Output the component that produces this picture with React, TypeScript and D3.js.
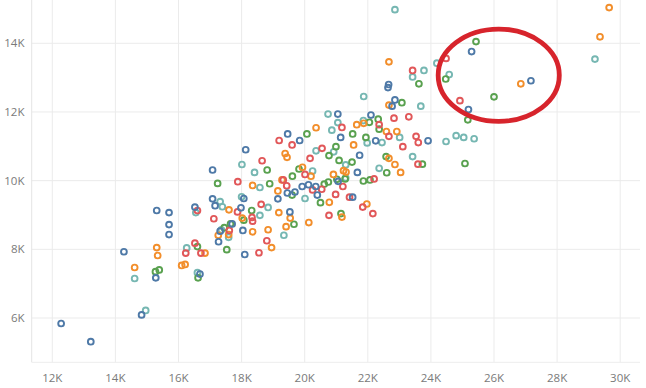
import React from "react";
import * as d3 from "d3";

// values in thousands: [x, y]
const blueSeries: [number, number][] = [
  [12.28, 5.84], [13.22, 5.31], [14.27, 7.93], [14.83, 6.09], [15.31, 9.13], [15.28, 7.17],
  [15.7, 9.07], [15.7, 8.72], [15.7, 8.43], [16.52, 9.23], [16.68, 7.28], [17.08, 9.47],
  [17.16, 9.27], [17.08, 10.31], [17.27, 8.22], [17.32, 8.53], [18.07, 9.48], [17.98, 9.21],
  [18.13, 10.9], [18.04, 8.55], [18.1, 7.85], [17.7, 8.74], [19.15, 9.47], [19.45, 9.64],
  [19.69, 9.67], [19.46, 11.36], [19.84, 11.17], [19.53, 9.09], [19.92, 9.83], [20.12, 9.88],
  [20.35, 9.83], [20.4, 9.58], [21.05, 11.94], [21.14, 11.26], [21.06, 9.98], [21.52, 9.52],
  [21.67, 10.24], [21.74, 10.74], [22.1, 11.91], [22.25, 11.16], [22.66, 12.8], [22.64, 12.71],
  [22.86, 12.35], [22.77, 12.17], [23.91, 11.16], [25.19, 12.07], [25.29, 13.76], [27.17, 12.91],
];

const orangeSeries: [number, number][] = [
  [14.61, 7.47], [15.31, 8.05], [15.34, 7.82], [16.1, 7.53], [16.21, 7.56], [16.84, 7.89],
  [17.26, 8.41], [17.6, 9.15], [17.59, 8.43], [18.02, 8.91], [18.35, 9.86], [18.35, 8.51],
  [18.84, 8.57], [18.95, 8.05], [19.15, 9.7], [19.18, 9.07], [19.28, 10.02], [19.38, 10.79],
  [19.44, 10.68], [19.41, 8.66], [19.54, 8.91], [19.93, 10.39], [20.2, 10.13], [20.13, 8.78],
  [20.36, 11.54], [20.78, 9.37], [20.91, 10.18], [21.23, 10.29], [21.31, 10.25], [21.18, 8.94],
  [21.55, 11.04], [21.65, 11.63], [21.87, 11.67], [21.97, 9.32], [22.59, 11.43], [22.92, 11.43],
  [22.67, 12.2], [22.67, 13.46], [22.67, 10.65], [22.86, 10.47], [23.04, 10.24], [26.85, 12.82],
  [29.36, 14.19], [29.65, 15.04],
];

const redSeries: [number, number][] = [
  [16.23, 7.89], [16.52, 8.18], [16.6, 9.13], [16.71, 7.89], [17.12, 8.89], [17.61, 8.55],
  [17.87, 9.09], [17.88, 9.97], [18.33, 8.93], [18.35, 8.82], [18.65, 10.58], [18.62, 9.31],
  [18.55, 7.9], [18.8, 8.25], [19.19, 11.17], [19.6, 11.04], [19.32, 10.02], [19.43, 9.85],
  [20.01, 10.18], [20.17, 10.65], [20.25, 9.73], [20.54, 9.75], [20.55, 10.94], [20.77, 8.99],
  [20.98, 9.6], [21.18, 11.55], [21.21, 9.83], [21.42, 9.52], [21.84, 9.23], [22.16, 9.04],
  [22.2, 10.05], [22.36, 11.63], [22.83, 11.82], [23.3, 11.86], [22.67, 11.29], [23.11, 10.99],
  [23.42, 13.21], [23.53, 11.29], [23.6, 11.11], [23.59, 10.48], [24.48, 13.56], [24.92, 12.33],
];

const tealSeries: [number, number][] = [
  [14.61, 7.15], [14.96, 6.22], [16.26, 8.04], [16.55, 9.07], [16.6, 7.32], [17.32, 9.39],
  [17.39, 9.24], [17.36, 8.57], [17.59, 8.35], [18.01, 10.47], [18.0, 9.53], [18.41, 10.24],
  [18.58, 9.8], [18.58, 8.99], [18.84, 9.22], [19.34, 8.41], [20.01, 9.48], [20.25, 10.28],
  [20.36, 10.87], [20.74, 11.94], [20.86, 11.47], [20.92, 10.84], [21.05, 11.69], [21.3, 10.46],
  [21.3, 10.08], [21.87, 12.45], [21.86, 11.75], [21.98, 11.1], [22.36, 10.36], [22.45, 11.11],
  [22.86, 14.98], [23.01, 11.26], [23.42, 13.02], [23.42, 10.7], [23.68, 12.17], [23.78, 13.21],
  [24.19, 13.42], [24.48, 11.14], [24.58, 13.09], [24.8, 11.31], [25.04, 11.26], [25.37, 11.22],
  [29.2, 13.54],
];

const greenSeries: [number, number][] = [
  [15.27, 7.35], [15.39, 7.4], [16.6, 8.08], [16.62, 7.17], [17.24, 9.92], [17.45, 8.63],
  [17.53, 7.99], [17.65, 8.74], [18.32, 9.13], [18.07, 8.85], [18.81, 10.31], [18.89, 9.91],
  [19.61, 10.13], [19.6, 9.58], [19.66, 8.73], [19.82, 10.34], [20.07, 11.36], [20.5, 9.36],
  [20.62, 9.9], [20.75, 9.96], [20.77, 10.73], [20.99, 10.99], [21.02, 10.04], [21.09, 10.59],
  [21.15, 9.04], [21.28, 10.05], [21.52, 11.36], [21.5, 10.54], [21.86, 9.99], [22.07, 10.02],
  [21.94, 11.26], [22.05, 11.7], [22.33, 11.79], [22.36, 11.5], [22.58, 10.7], [22.6, 10.23],
  [23.08, 12.27], [23.62, 12.82], [23.73, 10.48], [24.47, 12.96], [25.08, 10.5], [25.17, 11.77],
  [25.43, 14.05], [26.0, 12.44],
];

const xTicks = [12, 14, 16, 18, 20, 22, 24, 26, 28, 30];
const yTicks = [6, 8, 10, 12, 14];

// hand-drawn highlight (data units, thousands)
const highlight = { cx: 26.15, cy: 13.07, rx: 1.92, ry: 1.345 };

const series = [
  { color: "#76b7b2", pts: tealSeries },
  { color: "#59a14f", pts: greenSeries },
  { color: "#f28e2b", pts: orangeSeries },
  { color: "#e15759", pts: redSeries },
  { color: "#4e79a7", pts: blueSeries },
];

const W = 646;
const H = 388;
const plot = { left: 31.7, right: 640, top: 0, bottom: 362.3 };

export default function App() {
  const x = d3.scaleLinear().domain([12, 30]).range([52.3, 620.2]);
  const y = d3.scaleLinear().domain([6, 14]).range([318, 43.3]);
  const kx = x(1) - x(0);
  const ky = y(0) - y(1);

  return (
    <div style={{ position: "fixed", left: 0, top: 0 }}>
      <svg width={W} height={H} style={{ display: "block", background: "#fff" }}>
        {/* grid */}
        {xTicks.map((t) => (
          <line key={"gx" + t} x1={x(t)} x2={x(t)} y1={plot.top} y2={plot.bottom} stroke="#ebebeb" />
        ))}
        {yTicks.map((t) => (
          <line key={"gy" + t} x1={plot.left} x2={plot.right} y1={y(t)} y2={y(t)} stroke="#ebebeb" />
        ))}
        <line x1={plot.left} x2={plot.left} y1={plot.top} y2={plot.bottom} stroke="#e4e4e4" />
        <line x1={plot.left} x2={plot.right} y1={plot.bottom} y2={plot.bottom} stroke="#ededed" />

        {/* tick labels */}
        <g fontFamily="'Open Sans', sans-serif" fontSize={11.5} fill="#7a7a7a">
          {xTicks.map((t) => (
            <text key={"tx" + t} x={x(t)} y={382} textAnchor="middle">{t}K</text>
          ))}
          {yTicks.map((t) => (
            <text key={"ty" + t} x={24.5} y={y(t) + 4} textAnchor="end">{t}K</text>
          ))}
        </g>

        {/* points */}
        {series.map((s) =>
          s.pts.map((d, i) => (
            <circle
              key={s.color + i}
              cx={x(d[0])}
              cy={y(d[1])}
              r={2.9}
              fill="none"
              stroke={s.color}
              strokeWidth={1.9}
            />
          ))
        )}

        <ellipse
          cx={x(highlight.cx)}
          cy={y(highlight.cy)}
          rx={highlight.rx * kx}
          ry={highlight.ry * ky}
          fill="none"
          stroke="#d7242c"
          strokeWidth={4.8}
        />
      </svg>
    </div>
  );
}
